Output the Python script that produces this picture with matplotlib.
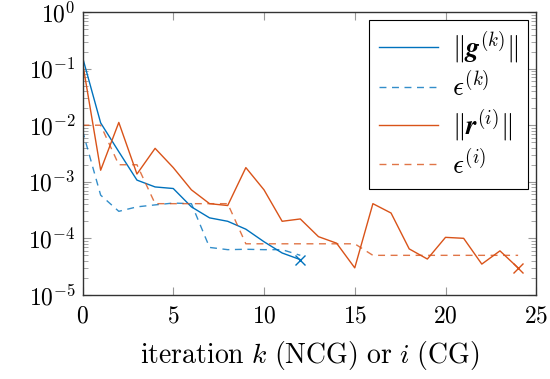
import math
import matplotlib
matplotlib.use("Agg")
import matplotlib.pyplot as plt
from matplotlib.ticker import FuncFormatter, LogLocator, NullFormatter

plt.rcParams["mathtext.fontset"] = "cm"
plt.rcParams["font.family"] = "serif"
plt.rcParams["font.serif"] = ["DejaVu Serif"]

# NCG iterations
k = list(range(13))
g_norm = [0.16, 0.011, 3.4e-3, 1.07e-3, 8.1e-4, 7.6e-4, 3.6e-4, 2.3e-4, 2.0e-4,
          1.45e-4, 8.7e-5, 5.5e-5, 4.2e-5]
eps_k = [8e-3, 5.8e-4, 3.0e-4, 3.6e-4, 3.9e-4, 4.2e-4, 4.1e-4, 6.9e-5, 6.3e-5,
         6.4e-5, 6.3e-5, 6.3e-5, 5.0e-5]

# CG iterations
i = list(range(25))
r_norm = [0.13, 1.6e-3, 0.0112, 1.37e-3, 3.9e-3, 1.78e-3, 7.2e-4, 4.1e-4, 3.8e-4,
          1.78e-3, 7.2e-4, 2.0e-4, 2.2e-4, 1.07e-4, 8.2e-5, 3.0e-5, 4.1e-4, 2.8e-4,
          6.5e-5, 4.3e-5, 1.04e-4, 1.0e-4, 3.5e-5, 6.0e-5, 3.0e-5]
eps_i = [1e-2, 1e-2, 2e-3, 2e-3, 4.1e-4, 4.1e-4, 4.1e-4, 4.1e-4, 4.1e-4,
         8e-5, 8e-5, 8e-5, 8e-5, 8e-5, 8e-5, 8e-5, 5e-5, 5e-5, 5e-5, 5e-5,
         5e-5, 5e-5, 5e-5, 5e-5, 5e-5]

blue = "#0072BD"
orange = "#D95319"

fig = plt.figure(figsize=(5.5, 3.79), dpi=100)
ax = fig.add_axes([0.150, 0.222, 0.825, 0.746])

ax.plot(k, g_norm, color=blue, lw=1.0, label=r"$\|\boldsymbol{g}^{(k)}\|$")
ax.plot(k, eps_k, color=blue, lw=1.0, ls=(0, (5, 4)), alpha=0.8, label=r"$\epsilon^{(k)}$")
ax.plot(i, r_norm, color=orange, lw=1.0, label=r"$\|\boldsymbol{r}^{(i)}\|$")
ax.plot(i, eps_i, color=orange, lw=1.0, ls=(0, (5, 4)), alpha=0.8, label=r"$\epsilon^{(i)}$")
ax.plot(k[-1], g_norm[-1], "x", color=blue, ms=7, mew=1.0)
ax.plot(i[-1], r_norm[-1], "x", color=orange, ms=7, mew=1.0)

ax.set_yscale("log")
ax.set_xlim(0, 25)
ax.set_ylim(1e-5, 1e0)
ax.set_xticks([0, 5, 10, 15, 20, 25])
ax.xaxis.set_major_formatter(FuncFormatter(lambda v, p: r"$%d$" % v))
ax.yaxis.set_major_locator(LogLocator(base=10, numticks=10))
ax.yaxis.set_minor_locator(LogLocator(base=10, subs=range(2, 10), numticks=20))
ax.yaxis.set_minor_formatter(NullFormatter())
ax.yaxis.set_major_formatter(FuncFormatter(lambda v, p: r"$10^{%d}$" % round(math.log10(v))))
ax.tick_params(which="both", direction="in", top=True, right=True, color="#999999",
               labelsize=17)
ax.tick_params(axis="x", pad=7)
ax.tick_params(axis="y", pad=5)
ax.tick_params(which="major", length=6)
ax.tick_params(which="minor", length=3.5)
for s in ax.spines.values():
    s.set_linewidth(1.0)
    s.set_color("#333333")

ax.set_xlabel(r"$\mathrm{iteration}\ k\ \mathrm{(NCG)\ or}\ i\ \mathrm{(CG)}$",
              fontsize=20, labelpad=8)

leg = ax.legend(loc="upper right", fontsize=19.5, fancybox=False, framealpha=1,
                edgecolor="black", handlelength=2.2, borderaxespad=0.3,
                labelspacing=0.2, handletextpad=0.5, borderpad=0.35)
leg.get_frame().set_linewidth(0.8)

fig.savefig("out.png", dpi=100)
